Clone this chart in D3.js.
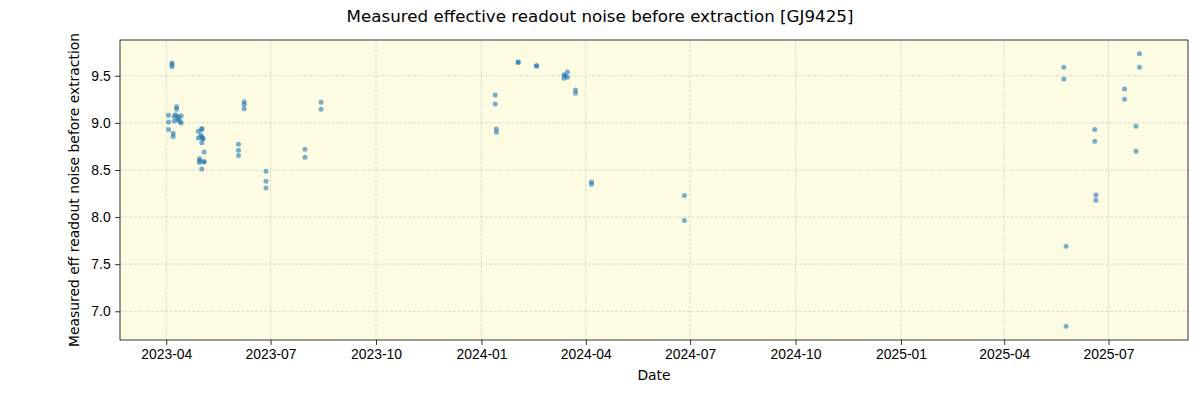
<!DOCTYPE html>
<html>
<head>
<meta charset="utf-8">
<script src="https://cdn.jsdelivr.net/npm/d3@7"></script>
<style>
  body { margin: 0; background: #fff; }
  svg { font-family: "DejaVu Sans", sans-serif; }
  .grid line { stroke: #d0d0d0; stroke-width: 0.8; stroke-dasharray: 3,1.5; }
  .axis path, .axis line { stroke: #000; stroke-width: 0.8; }
  .axis text { font-size: 13.9px; fill: #000; }
</style>
</head>
<body>
<script>
// measurement dates and values
const dates = [
  "2023-04-06","2023-04-06","2023-04-06",
  "2023-04-03","2023-04-03","2023-04-03",
  "2023-04-07","2023-04-07",
  "2023-04-10","2023-04-10",
  "2023-04-08","2023-04-08","2023-04-09",
  "2023-04-11","2023-04-11","2023-04-12","2023-04-13",
  "2023-04-14","2023-04-14",
  "2023-04-29","2023-04-29","2023-04-30","2023-04-30","2023-04-30",
  "2023-05-01","2023-05-02","2023-05-02","2023-05-02","2023-05-02","2023-05-02",
  "2023-05-03","2023-05-03","2023-05-04","2023-05-04","2023-05-04",
  "2023-06-03","2023-06-03","2023-06-03",
  "2023-06-08","2023-06-08","2023-06-08",
  "2023-06-27","2023-06-27","2023-06-27",
  "2023-07-31","2023-07-31",
  "2023-08-14","2023-08-14",
  "2024-01-13","2024-01-13","2024-01-14","2024-01-14",
  "2024-02-02","2024-02-02","2024-02-18","2024-02-18",
  "2024-03-13","2024-03-13","2024-03-14","2024-03-16","2024-03-16",
  "2024-03-23","2024-03-23",
  "2024-04-06","2024-04-06",
  "2024-06-26","2024-06-26",
  "2025-05-23","2025-05-23","2025-05-25","2025-05-25",
  "2025-06-19","2025-06-19","2025-06-20","2025-06-20",
  "2025-07-15","2025-07-15","2025-07-25","2025-07-25",
  "2025-07-28","2025-07-28"
];
const values = [
  9.635, 9.62, 9.595,
  9.08, 9.01, 8.93,
  8.89, 8.855,
  9.17, 9.145,
  9.067, 9.02, 9.085,
  9.067, 9.03, 9.05, 9.015,
  9.075, 9.0,
  8.91, 8.84, 8.62, 8.58, 8.60,
  8.87, 8.79, 8.51, 8.94, 8.93, 8.85,
  8.83, 8.84, 8.69, 8.585, 8.59,
  8.773, 8.71, 8.655,
  9.225, 9.195, 9.15,
  8.486, 8.38, 8.31,
  8.72, 8.635,
  9.22, 9.145,
  9.295, 9.2, 8.936, 8.90,
  9.645, 9.64, 9.61, 9.60,
  9.51, 9.475, 9.5, 9.54, 9.485,
  9.35, 9.315,
  8.372, 8.348,
  8.23, 7.965,
  9.59, 9.465, 7.69, 6.84,
  8.93, 8.805, 8.234, 8.18,
  9.36, 9.25, 8.965, 8.70,
  9.735, 9.59
];
const yTicks = [7.0, 7.5, 8.0, 8.5, 9.0, 9.5];
const xTicks = ["2023-04-01","2023-07-01","2023-10-01","2024-01-01","2024-04-01",
  "2024-07-01","2024-10-01","2025-01-01","2025-04-01","2025-07-01"];

const width = 1200, height = 400;
const margin = { top: 40, right: 12, bottom: 60, left: 120 };
const parse = d3.utcParse("%Y-%m-%d");
const data = dates.map((d, i) => ({ date: parse(d), value: values[i] }));

const svg = d3.select("body").append("svg")
  .attr("width", width).attr("height", height);

// matplotlib-like 5% padding
const xExt = d3.extent(data, d => d.date);
const xPad = (xExt[1] - xExt[0]) * 0.05;
const yExt = d3.extent(data, d => d.value);
const yPad = (yExt[1] - yExt[0]) * 0.05;

const xScale = d3.scaleUtc()
  .domain([new Date(+xExt[0] - xPad), new Date(+xExt[1] + xPad)])
  .range([margin.left, width - margin.right]);
const yScale = d3.scaleLinear()
  .domain([yExt[0] - yPad, yExt[1] + yPad])
  .range([height - margin.bottom, margin.top]);

const xTickDates = xTicks.map(parse);

svg.append("rect")
  .attr("x", margin.left).attr("y", margin.top)
  .attr("width", width - margin.left - margin.right)
  .attr("height", height - margin.top - margin.bottom)
  .attr("fill", "#fdfce3");

// grid
const grid = svg.append("g").attr("class", "grid");
grid.selectAll(".gx").data(xTickDates).enter().append("line")
  .attr("x1", d => xScale(d)).attr("x2", d => xScale(d))
  .attr("y1", margin.top).attr("y2", height - margin.bottom);
grid.selectAll(".gy").data(yTicks).enter().append("line")
  .attr("x1", margin.left).attr("x2", width - margin.right)
  .attr("y1", d => yScale(d)).attr("y2", d => yScale(d));

// points
svg.append("g").selectAll("circle").data(data).enter().append("circle")
  .attr("cx", d => xScale(d.date))
  .attr("cy", d => yScale(d.value))
  .attr("r", 2.5)
  .attr("fill", "#1f77b4")
  .attr("fill-opacity", 0.6);

// frame
svg.append("rect")
  .attr("x", margin.left).attr("y", margin.top)
  .attr("width", width - margin.left - margin.right)
  .attr("height", height - margin.top - margin.bottom)
  .attr("fill", "none").attr("stroke", "#000").attr("stroke-width", 0.8);

// axes
svg.append("g").attr("class", "axis")
  .attr("transform", "translate(0," + (height - margin.bottom) + ")")
  .call(d3.axisBottom(xScale).tickValues(xTickDates)
    .tickFormat(d3.utcFormat("%Y-%m")).tickSize(4.9).tickPadding(4.5))
  .call(g => g.select(".domain").remove());

svg.append("g").attr("class", "axis")
  .attr("transform", "translate(" + margin.left + ",0)")
  .call(d3.axisLeft(yScale).tickValues(yTicks)
    .tickFormat(d3.format(".1f")).tickSize(4.9).tickPadding(4.5))
  .call(g => g.select(".domain").remove());

// labels
svg.append("text")
  .attr("x", width / 2).attr("y", 22)
  .attr("text-anchor", "middle")
  .style("font-size", "16.7px")
  .text("Measured effective readout noise before extraction [GJ9425]");

svg.append("text")
  .attr("x", (margin.left + width - margin.right) / 2).attr("y", 380)
  .attr("text-anchor", "middle")
  .style("font-size", "13.9px")
  .text("Date");

svg.append("text")
  .attr("transform", "translate(79," + ((margin.top + height - margin.bottom) / 2) + ") rotate(-90)")
  .attr("text-anchor", "middle")
  .style("font-size", "13.9px")
  .text("Measured eff readout noise before extraction");
</script>
</body>
</html>
